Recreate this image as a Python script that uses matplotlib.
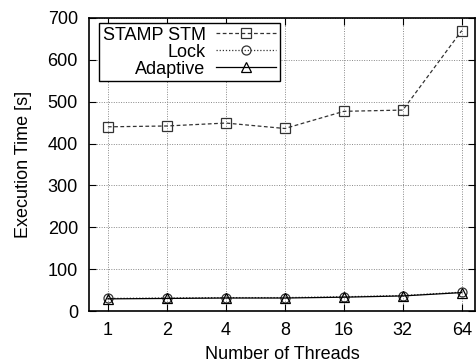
import matplotlib
matplotlib.use("Agg")
import matplotlib.pyplot as plt

plt.rcParams['font.family'] = ['Liberation Sans', 'DejaVu Sans']

threads = ["1", "2", "4", "8", "16", "32", "64"]
stamp_stm = [440, 442, 449, 436, 477, 480, 670]
lock = [30, 31, 32, 32, 34, 37, 45]
adaptive = [29, 30, 31, 31, 33, 36, 44]

fig = plt.figure(figsize=(4.77, 3.64), dpi=100)
ax = fig.add_axes([0.1866, 0.1456, 0.81, 0.805])

x = list(range(len(threads)))
ax.plot(x, stamp_stm, color='#333333', lw=0.9, ls=(0, (3, 2)), marker='s',
        ms=6.5, mfc='none', mec='#333333', mew=0.9, label='STAMP STM')
ax.plot(x, lock, color='#333333', lw=0.9, ls=(0, (1, 1.5)), marker='o',
        ms=6.5, mfc='none', mec='#333333', mew=0.9, label='Lock')
ax.plot(x, adaptive, color='black', lw=0.9, ls='-', marker='^',
        ms=6.5, mfc='none', mec='black', mew=0.9, label='Adaptive')

ax.set_xlim(-0.32, 6.23)
ax.set_ylim(0, 700)
ax.set_xticks(x)
ax.set_xticklabels(threads)
ax.set_yticks(range(0, 701, 100))
ax.tick_params(direction='in', top=True, right=True, length=5, labelsize=13,
               pad=8)
ax.grid(True, color='#888888', ls=(0, (1, 1.5)), lw=0.7)
for s in ax.spines.values():
    s.set_linewidth(1.2)

ax.set_xlabel('Number of Threads', fontsize=13, labelpad=5)
ax.set_ylabel('Execution Time [s]', fontsize=13, labelpad=11)

leg = ax.legend(loc='upper left', bbox_to_anchor=(0.026, 0.983),
                borderaxespad=0, markerfirst=False, fontsize=13,
                handlelength=3.3, fancybox=False, framealpha=1,
                edgecolor='black', labelspacing=0.0, borderpad=0.2,
                handletextpad=0.6)
leg.get_frame().set_linewidth(1.0)

fig.savefig('out.png', dpi=100)
